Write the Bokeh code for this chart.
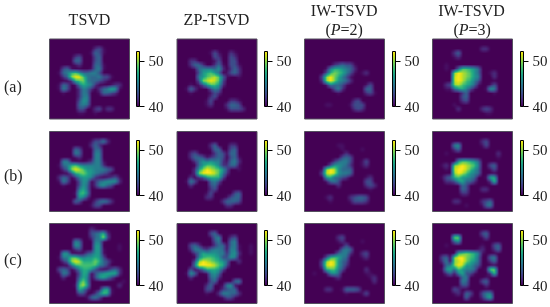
import numpy as np
from bokeh.plotting import figure
from bokeh.models import ColorBar, LinearColorMapper, FixedTicker, Range1d
from bokeh.core.properties import value
from bokeh.palettes import Viridis256
from bokeh.embed import file_html
from bokeh.resources import INLINE

row_labels = ["(a)", "(b)", "(c)"]
col_titles = ["TSVD", "ZP-TSVD", "IW-TSVD", "IW-TSVD"]
tick_values = [40, 50]
scale_low, scale_high = 40, 52.2

# each text row: one character per cell, estimated level 0..c (hex); top row first
Z0 = "0" * 20
a1 = [Z0, Z0,
"00000000001342100000","00000000002542000000","00000034000451000000","00000155000451000000",
"00000123000552000000","00145201012562000000","00256897556641000000","00135acc965564421000",
"00000389a65543210000","00254026876310023310","00264003653135687200","00120003651025543000",
"00000003661000000000","00000004761000000000","00000005651000000000","00000004410341331000",
"00000002201210110000",Z0]
a2 = [Z0, Z0,
"00000000010000000000","00000000242003200000","00000000143004300000","00133100024014410010",
"00035531135204420010","00002566657313530000","00000478975124530000","00001679ab9520120100",
"000014abcb9410001100","00120247997300000100","00253001465100000100","00121000243000000000",
"00000001340000000000","00000002410013320000","00000002300135541000","00000001100024443000",
"00000000000000110000",Z0]
a3 = [Z0, Z0, Z0,
"00000000010000000000","00000000110000000000",Z0,"00000013454420000000","00000268876530000000",
"0000048a986420230000","00004aca864200000000","00003aca765300000000","00000265542000024000",
"00100014630000055100","00000000200000034200",Z0,"00000000000034000000",
"00000220000244400000","00000110000134300000",Z0,Z0]
a4 = [Z0, Z0,
"00000000000033000000","00000350000011000000","00000230000000000000","00010000000000000100",
"00020000000000000000","00120059987510000000","00100acba97510230000","00000bcba97610130000",
"00000bcb986400000000","00134ab9875200240000","00022578642002760000","00000003510000120000",
"00000004500000000000","00000003400000000000","00000210000010000000","00000131000034300000",
"00000001000012210000",Z0]
b1 = [Z0, Z0,
"00000000002446300000","00000000003530000000","00000054000550000000","00000165000661000000",
"00000123000661000000","00166201123662000000","00256897666663100000","00135acb977666541000",
"00000489a87654310000","00354036776320234200","00264004761356777300","00121004751367541000",
"00000006851000000000","00000028961000000000","00000017630000000100","00000054000356531000",
"00000001002441100000",Z0]
b2 = [Z0, Z0,
"00000000010000000000","00000000350003300000","00000000255004510000","00134200035425510010",
"00035542345414520010","00003576766325630100","00000579986335520100","000037acba9740020100",
"00003acccb9630000000","00130347888410001100","00264001564100000100","00131000452000000000",
"00000001341000000000","00000002400001451000","00000003300024551000","00000001000355541000",
"00000000000133100000",Z0]
b3 = [Z0, Z0, Z0,
"00000000220000000000","00000000120001200000","00000000003000000000","00000000045400000000",
"00000013566410240000","00000147765300230000","00002acb755500000000","00004bcb766500000000",
"00001785543100023000","00100256410000044100","00000001310000034300","00000000000000002000",
Z0,"00000230001345540000","00000120000244430000",Z0,Z0]
b4 = [Z0, Z0,
"00000000000034000000","00000670000024000000","00000350000000000000","00020000000010003000",
"00010000000000002000","00000079987510000000","00230abcba9610450000","00120bccb97500240000",
"00000acb976500000000","00245897765002880000","00033478553000390000","00000005410000010000",
"00000005400033000000","00000003300000000000","00000110000000000000","00000330100034500000",
"00000001200025610000",Z0]
c1 = [Z0,
"00000000003210000000","00000000004568300000","0000000000356b400000","00000065000662000100",
"00000176000771000200","00000134000772000200","00177201245772000100","00266997677874100000",
"00135acb888a85420000","00000589999965310000","00454036887420245300","00265004871467888310",
"00131005861478642000","00000007a61000000020","00000029b71000000300","00010018630027820000",
"00000004400369820000","00000001025641000000",Z0]
c2 = [Z0,
"00000000100000000000","00000000451000000000","00000000256003410000","00000000046105610000",
"00145300035525620020","00036643566526620020","00003587776636730020","00000689987447620100",
"00004acba98750130100","00006ccccb9840000000","00140358887410110100","00275012675100000000",
"00131000563000000000","00000001451001561000","00000003500267200000","00000004400345510000",
"00000002103665530000","00000000001244210000",Z0]
c3 = [Z0, Z0,
"00000000010000000000","00000000340000000000","00000000230001200000","00000000014000000000",
"00000000056500000000","00000002566300340000","00000489865000230000","00004acb754000000000",
"00004bcb753000000000","00002899641000130000","00200267510000022000","00000002300000002300",
"00000000000000001300",Z0,"00000330125554000000","00000110012000240000",Z0,Z0]
c4 = [Z0, Z0,
"00000000000045000000","00000aa0000024000000","00000570000000000000","00020000000020045000",
"00010000000230035000","00000089a98620000000","00450acca98510560000","00360abca87500350000",
"00056acb775400000000","00278597665002aa0000","00135268442000390000","00000005600002000000",
"00000006500045000000","00000004400013000000","00000430000000000000","00000230540046600000",
"00000001520036810000",Z0]

panels = [[a1, a2, a3, a4], [b1, b2, b3, b4], [c1, c2, c3, c4]]

W, H = 550, 307
p = figure(width=W, height=H, x_range=Range1d(0, W), y_range=Range1d(0, H),
           output_backend="svg", toolbar_location=None,
           x_axis_location=None, y_axis_location=None,
           min_border=0, outline_line_color=None, background_fill_color="white")
p.grid.visible = False
p.styles = {"position": "fixed", "left": "0px", "top": "0px"}

mapper = LinearColorMapper(palette=Viridis256, low=scale_low, high=scale_high)
col_x = [49, 176.5, 304, 432]
row_y = [38.5, 131, 223]
bar_x = [136, 264, 392, 520]
bar_top = [51, 140, 230]
PANEL = 80
BAR_W, BAR_H = 3, 55

# display filter only, like an image viewer's smooth rendering of the read cells
SMOOTH = np.ones(5) / 5

def to_array(rows):
    assert len(rows) == 20 and all(len(r) == 20 for r in rows), rows
    cells = np.array([[int(c, 16) for c in r] for r in rows], dtype=float)[::-1]
    cells = np.clip(cells - 1.5, 0, None) * 12.2 / 10.5   # level to dB above the 40 floor
    img = np.kron(cells, np.ones((4, 4)))
    img = np.apply_along_axis(lambda v: np.convolve(v, SMOOTH, mode="same"), 0, img)
    img = np.apply_along_axis(lambda v: np.convolve(v, SMOOTH, mode="same"), 1, img)
    return 40 + img

for i, row in enumerate(panels):
    for j, rows in enumerate(row):
        p.image(image=[to_array(rows)], x=col_x[j], y=H - row_y[i] - PANEL,
                dw=PANEL, dh=PANEL, color_mapper=mapper)
        p.quad(left=[col_x[j]], right=[col_x[j] + PANEL], top=[H - row_y[i]],
               bottom=[H - row_y[i] - PANEL], fill_color=None,
               line_color="#55505f", line_width=1)
        cb = ColorBar(color_mapper=mapper, ticker=FixedTicker(ticks=tick_values),
                      location=(bar_x[j], H - bar_top[i] - BAR_H),
                      width=BAR_W, height=BAR_H, padding=0, margin=0,
                      background_fill_color=None, border_line_color=None,
                      bar_line_color="black", bar_line_width=1,
                      major_tick_in=0, major_tick_out=5, major_tick_line_color="black",
                      minor_tick_line_color=None, label_standoff=4,
                      major_label_text_font="Liberation Serif",
                      major_label_text_font_size="15px",
                      major_label_text_color="#222222")
        p.add_layout(cb, "center")

def label(x, y, s, align="center", style="normal"):
    p.text([x], [H - y], text=[s], text_font=value("Liberation Serif"),
           text_font_size="16px", text_color="#222222", text_align=align,
           text_baseline="middle", text_font_style=style)

label(89, 19, col_titles[0])
label(216, 19, col_titles[1])
label(343.7, 9.5, col_titles[2])
label(471, 9.5, col_titles[3])
for x0, n in [(325, "2"), (453, "3")]:
    label(x0, 29, "(", "left")
    label(x0 + 5.3, 29, "P", "left", "italic")
    label(x0 + 15.1, 29, "=" + n + ")", "left")
for s, y in zip(row_labels, [86, 175, 259]):
    label(3.5, y, s, "left")

open("out.html", "w").write(file_html(p, INLINE))
